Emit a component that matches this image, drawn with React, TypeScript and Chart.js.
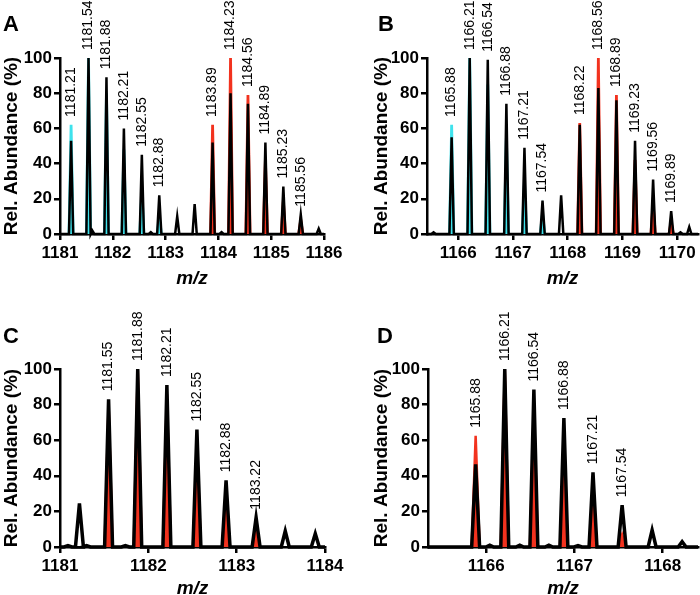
import React, { useEffect, useRef } from 'react';
import { Chart, registerables } from 'chart.js';

Chart.register(...registerables);

const FONT = '"Liberation Sans", Arial, Helvetica, sans-serif';
const CYAN = '#3ee2ec';
const RED = '#f2321e';

// ---------- Panel A ----------
const A_expMz = [1181.21, 1181.54, 1181.61, 1181.88, 1182.21, 1182.55, 1182.72, 1182.88, 1183.22, 1183.55, 1183.89, 1184.06, 1184.23, 1184.56, 1184.89, 1185.23, 1185.56, 1185.9];
const A_expInt = [53, 100, 2, 89, 60, 45, 1, 22, 10, 17, 52, 1, 80, 74, 52, 27, 11, 3];
const A_cyanMz = [1181.21, 1181.54, 1181.88, 1182.21, 1182.55, 1182.88];
const A_cyanInt = [62, 100, 80, 48, 25, 10];
const A_redMz = [1183.89, 1184.23, 1184.56, 1184.89, 1185.23, 1185.56];
const A_redInt = [62, 100, 79, 42, 19, 8];
const A_labels = ['1181.21', '1181.54', '1181.88', '1182.21', '1182.55', '1182.88', '1183.89', '1184.23', '1184.56', '1184.89', '1185.23', '1185.56'];

// ---------- Panel B ----------
const B_expMz = [1165.55, 1165.88, 1166.21, 1166.54, 1166.88, 1167.21, 1167.54, 1167.88, 1168.22, 1168.56, 1168.89, 1169.23, 1169.56, 1169.89, 1170.06, 1170.22];
const B_expInt = [1, 55, 100, 99, 74, 49, 19, 22, 62, 83, 76, 53, 31, 13, 1, 4];
const B_cyanMz = [1165.88, 1166.21, 1166.54, 1166.88, 1167.21, 1167.54];
const B_cyanInt = [62, 100, 85, 55, 30, 12];
const B_redMz = [1168.22, 1168.56, 1168.89, 1169.23, 1169.56, 1169.89];
const B_redInt = [63, 100, 79, 42, 18, 7];
const B_labels = ['1165.88', '1166.21', '1166.54', '1166.88', '1167.21', '1167.54', '1168.22', '1168.56', '1168.89', '1169.23', '1169.56', '1169.89'];

// ---------- Panel C ----------
const C_expMz = [1181.09, 1181.22, 1181.3, 1181.55, 1181.74, 1181.88, 1182.21, 1182.55, 1182.88, 1183.22, 1183.55, 1183.89];
const C_expInt = [0.8, 24.5, 0.8, 83, 0.8, 100, 91, 66, 37.5, 16.5, 9, 7.5];
const C_redMz = [1181.55, 1181.88, 1182.21, 1182.55, 1182.88, 1183.22];
const C_redInt = [80, 100, 86, 58, 30, 11];
const C_labels = ['1181.55', '1181.88', '1182.21', '1182.55', '1182.88', '1183.22'];

// ---------- Panel D ----------
const D_expMz = [1165.88, 1166.04, 1166.21, 1166.38, 1166.54, 1166.71, 1166.88, 1167.04, 1167.21, 1167.54, 1167.88, 1168.22];
const D_expInt = [46.5, 1, 100, 1, 88.5, 1, 72.5, 0.8, 42, 23.5, 9.5, 3];
const D_redMz = [1165.88, 1166.21, 1166.54, 1166.88, 1167.21, 1167.54];
const D_redInt = [62.5, 100, 80, 50, 24, 7];
const D_labels = ['1165.88', '1166.21', '1166.54', '1166.88', '1167.21', '1167.54'];

const Y_TICKS_STEP = 20;
const X_TICKS_STEP = 1;

type Theo = { mz: number[]; int: number[]; color: string };
type Cfg = {
  letter: string;
  left: number; top: number; width: number; height: number;
  xMin: number; xMax: number;
  padLeft: number; padTop: number; padRight: number; padBottom: number;
  yWidth: number; xHeight: number;
  expMz: number[]; expInt: number[];
  theo: Theo[];
  labels: string[];
  hw: number; lw: number; theoLw: number;
  letterPos: { left: number; top: number };
};

function tracePoints(mz: number[], ints: number[], hw: number, xMin: number, xMax: number) {
  const pts: { x: number; y: number }[] = [{ x: xMin, y: 0 }];
  mz.forEach((m, i) => {
    pts.push({ x: m - hw, y: 0 });
    pts.push({ x: m, y: ints[i] });
    pts.push({ x: m + hw, y: 0 });
  });
  pts.push({ x: xMax, y: 0 });
  return pts;
}

function theoPoints(mz: number[], ints: number[], hw: number) {
  const pts: any[] = [];
  mz.forEach((m, i) => {
    pts.push({ x: m - hw, y: 0 });
    pts.push({ x: m, y: ints[i] });
    pts.push({ x: m + hw, y: 0 });
    pts.push({ x: m + hw + 0.001, y: null });
  });
  return pts;
}

function heightAt(mz: number[], ints: number[], m: number) {
  let best = 0;
  mz.forEach((v, i) => {
    if (Math.abs(v - m) < 0.02) best = Math.max(best, ints[i]);
  });
  return best;
}

const Panel: React.FC<{ cfg: Cfg }> = ({ cfg }) => {
  const ref = useRef<HTMLCanvasElement>(null);
  useEffect(() => {
    if (!ref.current) return;
    const c = cfg;
    const labelPlugin = {
      id: 'peakLabels',
      afterDatasetsDraw(chart: any) {
        const ctx = chart.ctx;
        const xs = chart.scales.x;
        const ys = chart.scales.y;
        ctx.save();
        ctx.fillStyle = '#000';
        ctx.font = `14px ${FONT}`;
        ctx.textAlign = 'left';
        ctx.textBaseline = 'middle';
        c.labels.forEach((t) => {
          const m = parseFloat(t);
          let h = heightAt(c.expMz, c.expInt, m);
          c.theo.forEach((th) => { h = Math.max(h, heightAt(th.mz, th.int, m)); });
          const x = xs.getPixelForValue(m);
          const y = ys.getPixelForValue(h) - 8;
          ctx.save();
          ctx.translate(x, y);
          ctx.rotate(-Math.PI / 2);
          ctx.fillText(t, 0, 0);
          ctx.restore();
        });
        ctx.restore();
      },
    };
    const datasets: any[] = c.theo.map((th) => ({
      type: 'line',
      data: theoPoints(th.mz, th.int, c.hw),
      borderColor: th.color,
      backgroundColor: th.color,
      borderWidth: c.theoLw,
      fill: 'origin',
      pointRadius: 0,
      spanGaps: false,
      tension: 0,
      order: 2,
      clip: false,
    }));
    datasets.push({
      type: 'line',
      data: tracePoints(c.expMz, c.expInt, c.hw, c.xMin, c.xMax),
      borderColor: '#000',
      backgroundColor: '#000',
      borderWidth: c.lw,
      fill: false,
      pointRadius: 0,
      tension: 0,
      order: 0,
      clip: false,
    });
    const chart = new Chart(ref.current, {
      type: 'line',
      data: { datasets },
      plugins: [labelPlugin],
      options: {
        animation: false,
        responsive: false,
        devicePixelRatio: 1,
        events: [],
        layout: { padding: { left: c.padLeft, top: c.padTop, right: c.padRight, bottom: c.padBottom } },
        plugins: { legend: { display: false }, tooltip: { enabled: false } },
        scales: {
          x: {
            type: 'linear',
            min: c.xMin,
            max: c.xMax,
            offset: false,
            afterFit: (s: any) => { s.height = c.xHeight; s.paddingLeft = 0; s.paddingRight = 0; },
            grid: { drawOnChartArea: false, drawTicks: true, tickLength: 6, tickWidth: 2.5, tickColor: '#000', color: '#000', lineWidth: 2.5 },
            border: { display: true, color: '#000', width: 2.5 },
            ticks: {
              stepSize: X_TICKS_STEP,
              includeBounds: false,
              autoSkip: false,
              maxRotation: 0,
              padding: 3,
              color: '#000',
              font: { family: FONT, size: 17, weight: 'bold' },
              callback: (v: any) => String(v),
            },
            title: {
              display: true,
              text: 'm/z',
              color: '#000',
              padding: 0,
              font: { family: FONT, size: 19, weight: 'bold', style: 'italic' },
            },
          },
          y: {
            type: 'linear',
            min: 0,
            max: 100,
            afterFit: (s: any) => { s.width = c.yWidth; s.paddingTop = 0; s.paddingBottom = 0; },
            grid: { drawOnChartArea: false, drawTicks: true, tickLength: 6, tickWidth: 2.5, tickColor: '#000', color: '#000', lineWidth: 2.5 },
            border: { display: true, color: '#000', width: 2.5 },
            ticks: {
              stepSize: Y_TICKS_STEP,
              padding: 2,
              color: '#000',
              font: { family: FONT, size: 17, weight: 'bold' },
              callback: (v: any) => String(v),
            },
            title: {
              display: true,
              text: 'Rel. Abundance (%)',
              color: '#000',
              padding: 0,
              font: { family: FONT, size: 19, weight: 'bold' },
            },
          },
        },
      } as any,
    });
    return () => chart.destroy();
  }, [cfg]);
  return (
    <div style={{ position: 'absolute', left: cfg.left, top: cfg.top, width: cfg.width, height: cfg.height }}>
      <canvas ref={ref} width={cfg.width} height={cfg.height} style={{ display: 'block' }} />
      <div
        style={{
          position: 'absolute',
          left: cfg.letterPos.left,
          top: cfg.letterPos.top,
          fontFamily: FONT,
          fontWeight: 'bold',
          fontSize: 22,
          lineHeight: '22px',
          color: '#000',
        }}
      >
        {cfg.letter}
      </div>
    </div>
  );
};

const PANELS: Cfg[] = [
  {
    letter: 'A', left: 0, top: 0, width: 350, height: 298,
    xMin: 1181, xMax: 1186,
    padLeft: 0, padTop: 58, padRight: 26, padBottom: 8, yWidth: 60, xHeight: 56,
    expMz: A_expMz, expInt: A_expInt,
    theo: [{ mz: A_cyanMz, int: A_cyanInt, color: CYAN }, { mz: A_redMz, int: A_redInt, color: RED }],
    labels: A_labels, hw: 0.04, lw: 2.5, theoLw: 2.8,
    letterPos: { left: 3, top: 13 },
  },
  {
    letter: 'B', left: 350, top: 0, width: 350, height: 298,
    xMin: 1165.43, xMax: 1170.38,
    padLeft: 20, padTop: 58, padRight: 2, padBottom: 8, yWidth: 57, xHeight: 56,
    expMz: B_expMz, expInt: B_expInt,
    theo: [{ mz: B_cyanMz, int: B_cyanInt, color: CYAN }, { mz: B_redMz, int: B_redInt, color: RED }],
    labels: B_labels, hw: 0.04, lw: 2.5, theoLw: 2.8,
    letterPos: { left: 28, top: 13 },
  },
  {
    letter: 'C', left: 0, top: 298, width: 350, height: 305,
    xMin: 1181, xMax: 1184,
    padLeft: 0, padTop: 71, padRight: 25, padBottom: 3, yWidth: 60, xHeight: 53,
    expMz: C_expMz, expInt: C_expInt,
    theo: [{ mz: C_redMz, int: C_redInt, color: RED }],
    labels: C_labels, hw: 0.045, lw: 3.5, theoLw: 2.5,
    letterPos: { left: 3, top: 27 },
  },
  {
    letter: 'D', left: 350, top: 298, width: 350, height: 305,
    xMin: 1165.34, xMax: 1168.4,
    padLeft: 20, padTop: 71, padRight: 2, padBottom: 3, yWidth: 58, xHeight: 53,
    expMz: D_expMz, expInt: D_expInt,
    theo: [{ mz: D_redMz, int: D_redInt, color: RED }],
    labels: D_labels, hw: 0.045, lw: 3.5, theoLw: 2.5,
    letterPos: { left: 27, top: 27 },
  },
];

export default function App() {
  return (
    <div style={{ position: 'fixed', left: 0, top: 0, width: 700, height: 595, overflow: 'hidden', background: '#fff' }}>
      {PANELS.map((p) => (
        <Panel key={p.letter} cfg={p} />
      ))}
    </div>
  );
}
